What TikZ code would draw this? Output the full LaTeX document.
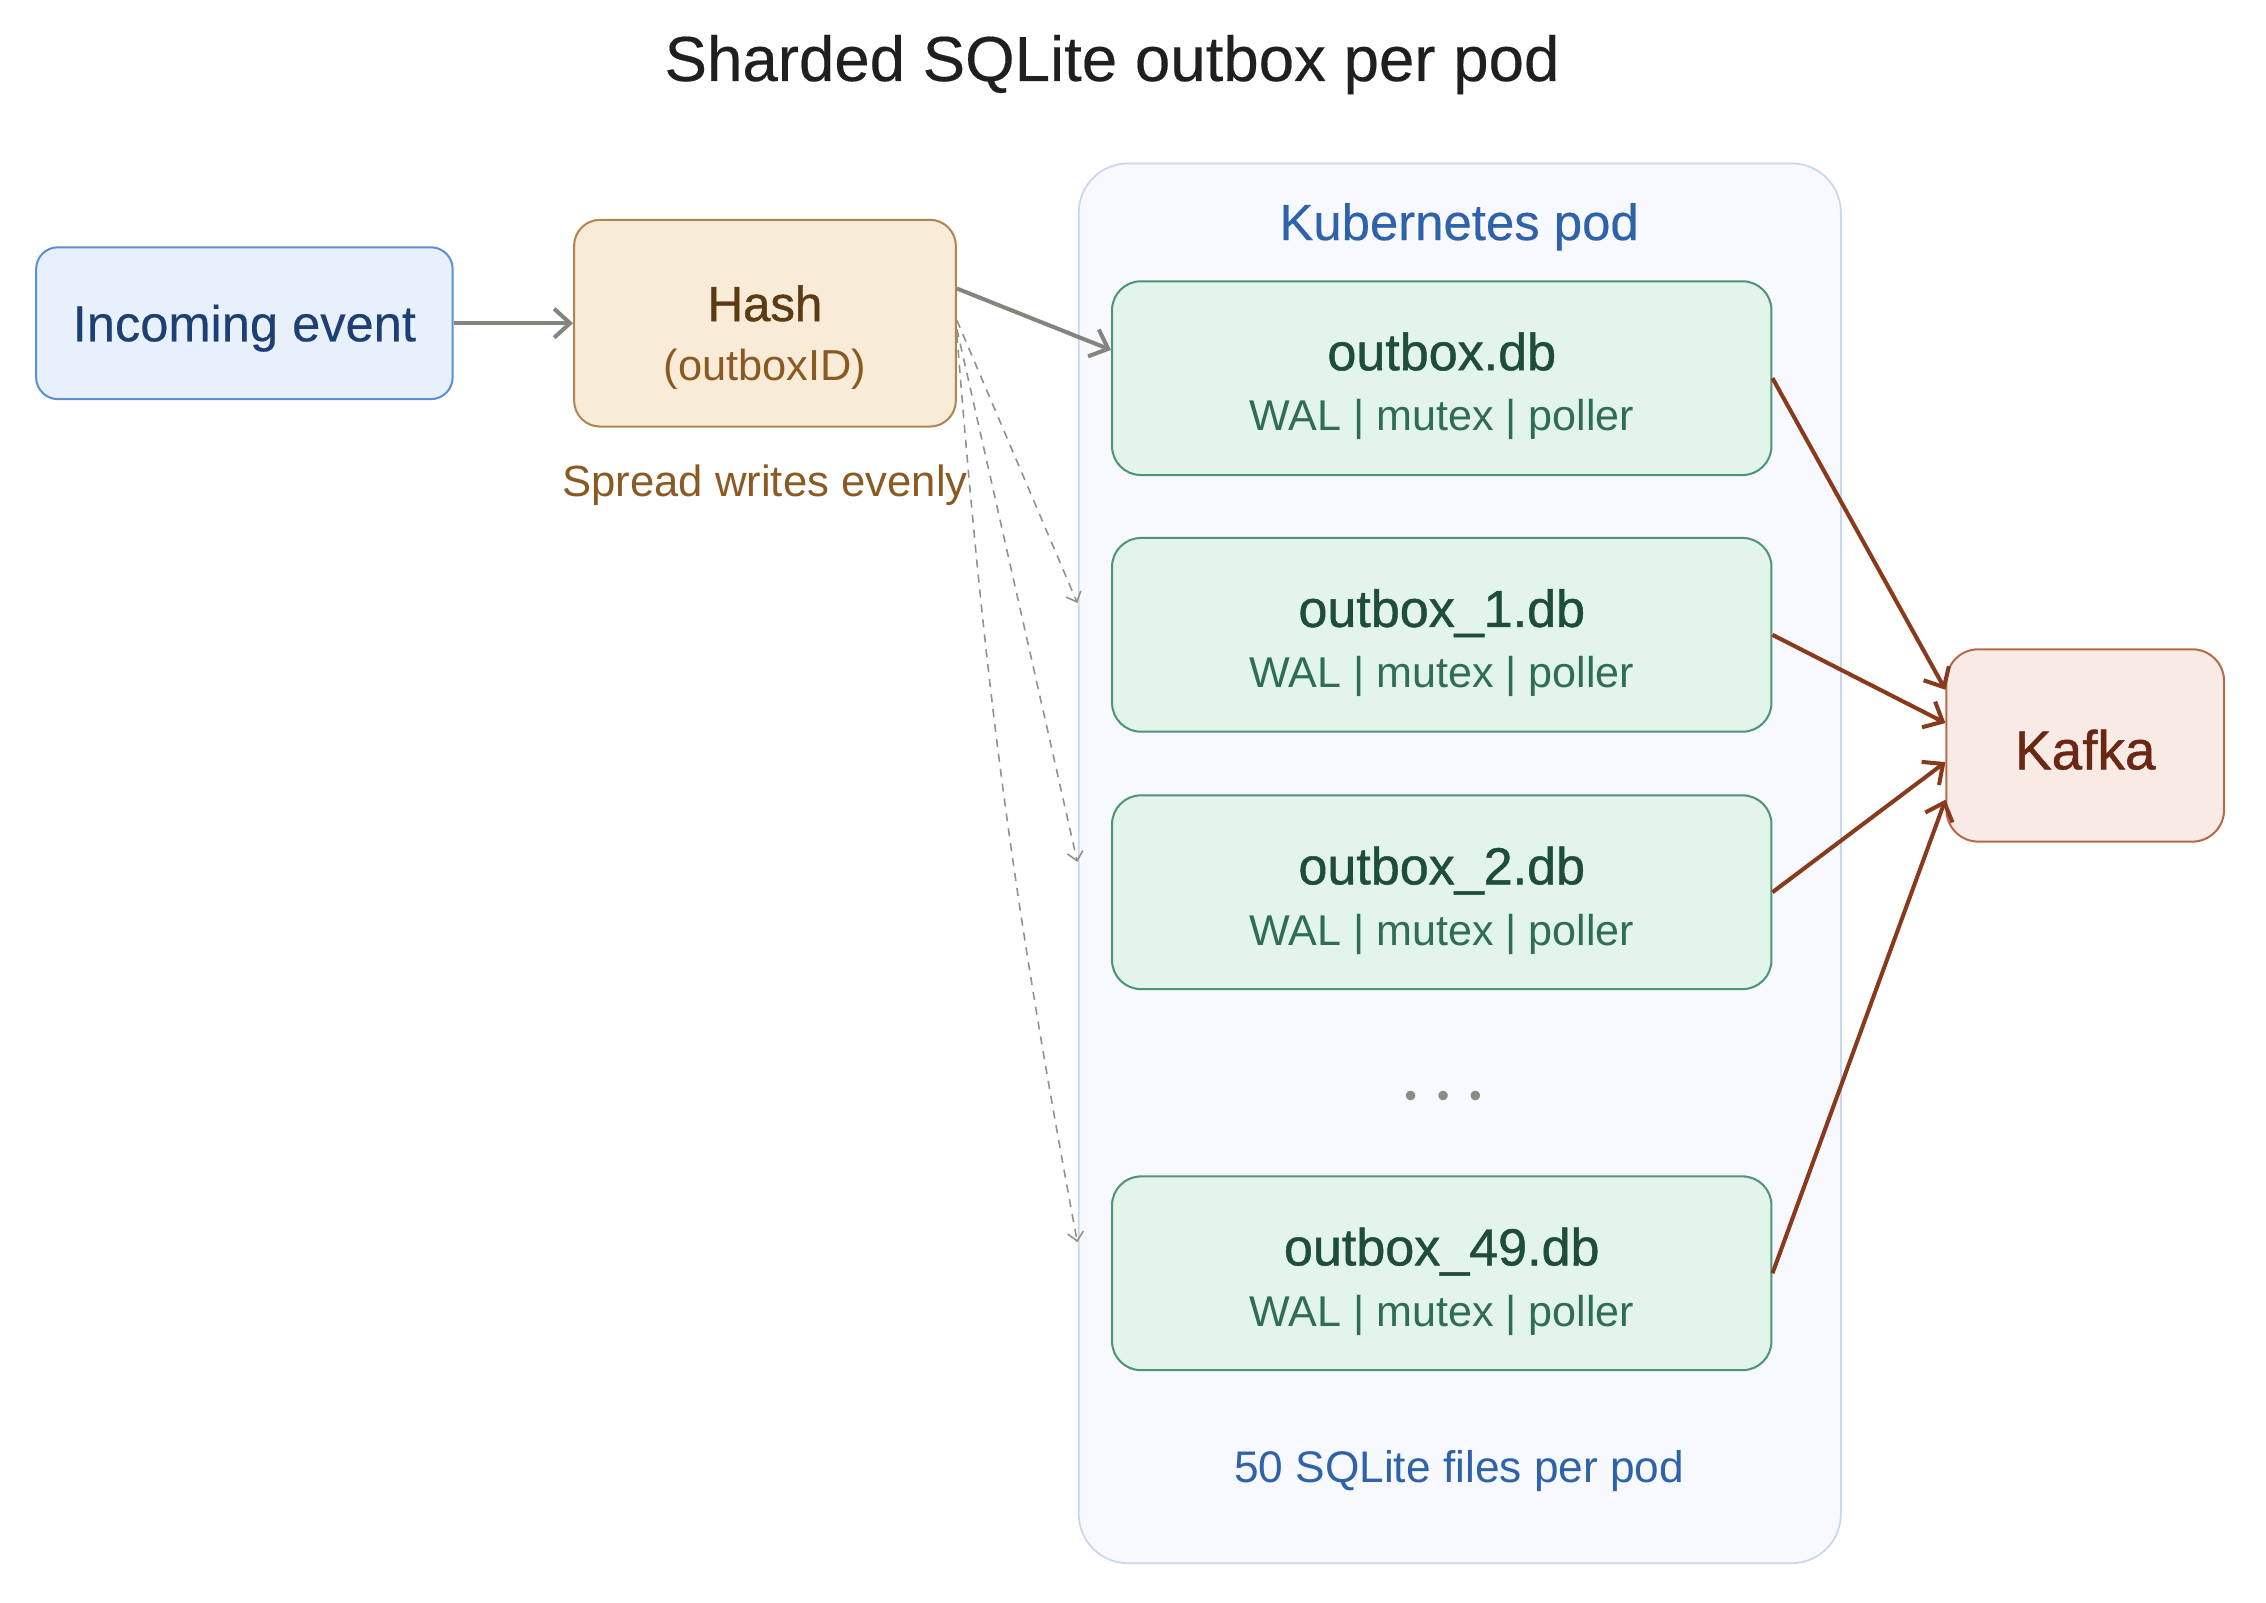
\documentclass[tikz,border=0pt]{standalone}
\usepackage{fontspec}
\setmainfont{Liberation Sans}
\newfontfamily\medfont[FakeBold=0.9]{Liberation Sans}
\newfontfamily\lmedfont[FakeBold=0.3]{Liberation Sans}
\usetikzlibrary{arrows.meta}
\definecolor{titlec}{HTML}{1F1F1F}
\definecolor{incfill}{HTML}{E8F1FB}
\definecolor{incdraw}{HTML}{5C8FD6}
\definecolor{inctext}{HTML}{1D3F74}
\definecolor{hashfill}{HTML}{F8ECD8}
\definecolor{hashdraw}{HTML}{B08550}
\definecolor{hashtext}{HTML}{5C3A12}
\definecolor{hashsub}{HTML}{8A5A22}
\definecolor{podfill}{HTML}{F7F9FE}
\definecolor{poddraw}{HTML}{C9D7EC}
\definecolor{podtext}{HTML}{2E62AA}
\definecolor{dbfill}{HTML}{E3F4EA}
\definecolor{dbdraw}{HTML}{4E9478}
\definecolor{dbtext}{HTML}{1E4D38}
\definecolor{dbsub}{HTML}{2F6E52}
\definecolor{kfill}{HTML}{F8EAE4}
\definecolor{kdraw}{HTML}{B8694A}
\definecolor{ktext}{HTML}{6A2714}
\definecolor{garr}{HTML}{858580}
\definecolor{rarr}{HTML}{8A3A1C}
\definecolor{dotc}{HTML}{8A8A86}
\begin{document}
\begin{tikzpicture}[x=0.5pt,y=-0.5pt,
  boxbase/.style={draw, line width=0.7pt, inner sep=0pt},
  incbox/.style={boxbase, fill=incfill, draw=incdraw, rounded corners=7.5pt, minimum width=144pt, minimum height=52.5pt},
  hashbox/.style={boxbase, fill=hashfill, draw=hashdraw, rounded corners=9pt, minimum width=132pt, minimum height=71.5pt},
  podbox/.style={boxbase, fill=podfill, draw=poddraw, line width=0.6pt, rounded corners=17pt, minimum width=263.5pt, minimum height=484pt},
  dbbox/.style={boxbase, fill=dbfill, draw=dbdraw, rounded corners=10pt, minimum width=228pt, minimum height=67pt},
  kbox/.style={boxbase, fill=kfill, draw=kdraw, rounded corners=11pt, minimum width=96pt, minimum height=66.5pt},
  lbl/.style={anchor=base, inner sep=0pt},
  dbtitle/.style={lbl, text=dbtext, font=\medfont\fontsize{18}{21}\selectfont},
  dbsubt/.style={lbl, text=dbsub, font=\fontsize{14.9}{18}\selectfont},
  garrow/.style={draw=garr, line width=1.4pt, -{Straight Barb[length=5.5pt,width=10pt,line width=1.4pt]}},
  dasharrow/.style={draw=garr!90, line width=0.55pt, dash pattern=on 2.8pt off 2.4pt, -{Straight Barb[length=3pt,width=5.5pt,line width=0.55pt]}},
  rarrow/.style={draw=rarr, line width=1.4pt, -{Straight Barb[length=5.5pt,width=10pt,line width=1.4pt]}}
]
\useasboundingbox (0,0) rectangle (1567,1108);

% title
\node[lbl, text=titlec, font=\lmedfont\fontsize{22}{26}\selectfont] (title) at (769,56) {Sharded SQLite outbox per pod};

% pod container
\node[podbox] (pod) at (1009.5,597) {};
\node[lbl, text=podtext, font=\lmedfont\fontsize{17.6}{21}\selectfont] (podlbl) at (1009,166) {Kubernetes pod};
\node[lbl, text=podtext, font=\fontsize{15.3}{18}\selectfont] (podfoot) at (1009,1025) {50 SQLite files per pod};

% incoming
\node[incbox] (inc) at (169,223.5) {};
\node[lbl, text=inctext, font=\lmedfont\fontsize{17.5}{21}\selectfont] (inctxt) at (169,236) {Incoming event};

% hash
\node[hashbox] (hash) at (529,223.5) {};
\node[lbl, text=hashtext, font=\medfont\fontsize{17}{20}\selectfont] (hashtxt) at (529,222) {Hash};
\node[lbl, text=hashsub, font=\fontsize{15}{18}\selectfont] (hashsubtxt) at (529,263) {(outboxID)};
\node[lbl, text=hashsub, font=\fontsize{15.1}{18}\selectfont] (spread) at (529,343) {Spread writes evenly};

% db shards
\node[dbbox] (ob0) at (997,261.5) {};
\node[dbtitle] (ob0t) at (997,256) {outbox.db};
\node[dbsubt] (ob0s) at (997,298) {WAL | mutex | poller};

\node[dbbox] (ob1) at (997,439) {};
\node[dbtitle] (ob1t) at (997,433.5) {outbox\_1.db};
\node[dbsubt] (ob1s) at (997,475.5) {WAL | mutex | poller};

\node[dbbox] (ob2) at (997,617) {};
\node[dbtitle] (ob2t) at (997,611.5) {outbox\_2.db};
\node[dbsubt] (ob2s) at (997,653.5) {WAL | mutex | poller};

\node[lbl, text=dotc, font=\fontsize{12}{14}\selectfont] (dots) at (998,766) {•\hspace{7pt}•\hspace{7pt}•};

\node[dbbox] (ob49) at (997,880.5) {};
\node[dbtitle] (ob49t) at (997,875) {outbox\_49.db};
\node[dbsubt] (ob49s) at (997,917) {WAL | mutex | poller};

% kafka
\node[kbox] (kafka) at (1442,515.5) {};
\node[lbl, text=ktext, font=\medfont\fontsize{19}{22}\selectfont] (ktxt) at (1442,532) {Kafka};

% arrows
\draw[garrow] (inc.east) -- (hash.west);
\draw[garrow] ([yshift=12pt]hash.east) -- ([yshift=9.75pt]ob0.west);

\coordinate (d1) at (745,417);
\coordinate (d2) at (745,596);
\coordinate (d3) at (745,859);
\draw[dasharrow] ([yshift=1pt]hash.east) -- (d1);
\draw[dasharrow] ([yshift=-2pt]hash.east) -- (d2);
\draw[dasharrow] ([yshift=-4pt]hash.east) to[bend right=3] (d3);

\draw[rarrow] (ob0.east) -- ([yshift=19.25pt]kafka.west);
\draw[rarrow] (ob1.east) -- ([yshift=7.75pt]kafka.west);
\draw[rarrow] (ob2.east) -- ([yshift=-5.75pt]kafka.west);
\draw[rarrow] (ob49.east) -- ([yshift=-18.75pt]kafka.west);
\end{tikzpicture}
\end{document}
